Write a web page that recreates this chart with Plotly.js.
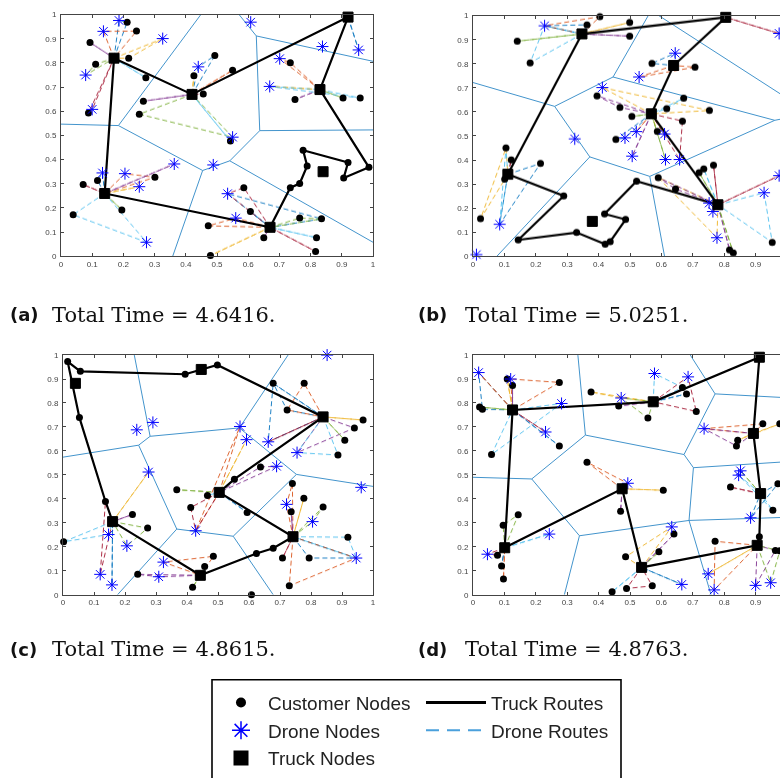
<!DOCTYPE html>
<html><head><meta charset="utf-8">
<script src="https://cdn.plot.ly/plotly-3.0.1.min.js"></script>
<style>html,body{margin:0;padding:0;overflow:hidden;background:#fff}#chart{width:800px;height:778px}</style>
</head><body><div id="chart"></div>
<script>
// ---------------- Panel (a) ----------------
const truckA_x = [0.92,0.17,0.42,0.83,0.14,0.67,0.84];
const truckA_y = [0.99,0.82,0.67,0.69,0.26,0.12,0.35];
const routeA_x = [0.17,0.42,0.92,0.83,0.987,0.906,0.92,0.776,0.789,0.765,0.735,0.67,0.14,0.17];
const routeA_y = [0.82,0.67,0.99,0.69,0.368,0.324,0.388,0.439,0.374,0.301,0.284,0.12,0.26,0.82];
const custA_x = [0.212,0.242,0.093,0.111,0.217,0.272,0.088,0.493,0.550,0.426,0.456,0.264,0.251,0.543,0.735,0.750,0.904,0.959,0.071,0.117,0.301,0.195,0.039,0.586,0.607,0.472,0.765,0.835,0.650,0.819,0.816,0.479,0.987,0.906,0.920,0.776,0.789,0.765,0.735];
const custA_y = [0.969,0.932,0.885,0.795,0.820,0.739,0.593,0.831,0.770,0.747,0.672,0.642,0.588,0.477,0.801,0.649,0.655,0.655,0.297,0.314,0.327,0.192,0.172,0.284,0.185,0.126,0.158,0.155,0.077,0.077,0.020,0.003,0.368,0.324,0.388,0.439,0.374,0.301,0.284];
const droneA_x = [0.186,0.136,0.326,0.079,0.100,0.440,0.550,0.608,0.838,0.954,0.701,0.669,0.133,0.205,0.251,0.363,0.488,0.274,0.534,0.560];
const droneA_y = [0.976,0.931,0.901,0.750,0.608,0.784,0.493,0.969,0.868,0.854,0.818,0.703,0.345,0.342,0.288,0.382,0.378,0.058,0.259,0.158];
// sorties: [truck node index, visited x's, visited y's]
const sortiesA = [
 [1,[0.186,0.212],[0.976,0.969]],[1,[0.136,0.242],[0.931,0.932]],[1,[0.326,0.217],[0.901,0.820]],
 [1,[0.093],[0.885]],[1,[0.111,0.079],[0.795,0.750]],[1,[0.272],[0.739]],[1,[0.100,0.088],[0.608,0.593]],
 [2,[0.493,0.440],[0.831,0.784]],[2,[0.550],[0.770]],[2,[0.426],[0.747]],[2,[0.264],[0.642]],
 [2,[0.251,0.550],[0.588,0.493]],[2,[0.543],[0.477]],[2,[0.456],[0.672]],
 [0,[0.954],[0.854]],
 [3,[0.701,0.735],[0.818,0.801]],[3,[0.669],[0.703]],[3,[0.750],[0.649]],[3,[0.904],[0.655]],[3,[0.959,0.669],[0.655,0.703]],
 [4,[0.071],[0.297]],[4,[0.117,0.133],[0.314,0.345]],[4,[0.205,0.301],[0.342,0.327]],[4,[0.251],[0.288]],
 [4,[0.363],[0.382]],[4,[0.195],[0.192]],[4,[0.039,0.274],[0.172,0.058]],
 [5,[0.586,0.534],[0.284,0.259]],[5,[0.607],[0.185]],[5,[0.560,0.472],[0.158,0.126]],[5,[0.479],[0.003]],
 [5,[0.650],[0.077]],[5,[0.765,0.835],[0.158,0.155]],[5,[0.819],[0.077]],[5,[0.816],[0.020]],[5,[0.534,0.835],[0.259,0.155]]
];
const voronoiA = [
 [0,0.547,0.184,0.541],[0.184,0.541,0.448,1],[0.184,0.541,0.454,0.355],[0.454,0.355,0.358,0],
 [0.454,0.355,0.541,0.395],[0.541,0.395,0.637,0.52],[0.637,0.52,1,0.523],[0.637,0.52,0.626,0.912],
 [0.626,0.912,0.571,1],[0.626,0.912,1,0.807],[0.541,0.395,1,0.058]
];
const timeA = '4.6416';

// ---------------- Panel (b) ----------------
const truckB_x = [0.805,0.347,0.639,0.568,0.780,0.111,0.380];
const truckB_y = [0.993,0.924,0.793,0.592,0.214,0.341,0.145];
const routeB_x = [0.111,0.347,0.805,0.639,0.568,0.780,0.521,0.419,0.486,0.437,0.421,0.330,0.144,0.289,0.111];
const routeB_y = [0.341,0.924,0.993,0.793,0.592,0.214,0.312,0.176,0.153,0.061,0.050,0.099,0.068,0.251,0.341];
const custB_x = [0.404,0.363,0.499,0.499,0.141,0.182,0.570,0.707,0.395,0.468,0.506,0.617,0.671,0.753,0.667,0.587,0.455,0.105,0.122,0.215,0.101,0.024,0.590,0.645,0.720,0.735,0.766,0.953,0.817,0.829,0.521,0.419,0.486,0.437,0.421,0.330,0.144,0.289];
const custB_y = [0.996,0.962,0.972,0.915,0.894,0.804,0.802,0.786,0.667,0.619,0.581,0.614,0.657,0.606,0.562,0.519,0.486,0.450,0.400,0.386,0.321,0.156,0.327,0.280,0.348,0.363,0.379,0.058,0.027,0.014,0.312,0.176,0.153,0.061,0.050,0.099,0.068,0.251];
const droneB_x = [0.228,0.975,0.644,0.529,0.412,0.324,0.520,0.484,0.610,0.507,0.613,0.658,0.085,0.011,0.752,0.764,0.777,0.927,0.975];
const droneB_y = [0.958,0.926,0.844,0.745,0.701,0.488,0.518,0.492,0.508,0.416,0.402,0.402,0.133,0.007,0.221,0.186,0.077,0.264,0.335];
const sortiesB = [
 [1,[0.228,0.363],[0.958,0.962]],[1,[0.404,0.228],[0.996,0.958]],[1,[0.499],[0.972]],[1,[0.499],[0.915]],
 [1,[0.141],[0.894]],[1,[0.182,0.228],[0.804,0.958]],
 [0,[0.975],[0.926]],
 [2,[0.644,0.570],[0.844,0.802]],[2,[0.529,0.707],[0.745,0.786]],
 [3,[0.412,0.753],[0.701,0.606]],[3,[0.395,0.468],[0.667,0.619]],[3,[0.506],[0.581]],[3,[0.617,0.671],[0.614,0.657]],
 [3,[0.667,0.658],[0.562,0.402]],[3,[0.455,0.484],[0.486,0.492]],[3,[0.520],[0.518]],[3,[0.587,0.610],[0.519,0.508]],
 [3,[0.507],[0.416]],[3,[0.613],[0.402]],
 [5,[0.105,0.085],[0.450,0.133]],[5,[0.122],[0.400]],[5,[0.215,0.085],[0.386,0.133]],[5,[0.101],[0.321]],[5,[0.024,0.105],[0.156,0.450]],
 [4,[0.590,0.645],[0.327,0.280]],[4,[0.720],[0.348]],[4,[0.735],[0.363]],[4,[0.766],[0.379]],[4,[0.752],[0.221]],
 [4,[0.764],[0.186]],[4,[0.777,0.590],[0.077,0.327]],[4,[0.817],[0.027]],[4,[0.829],[0.014]],
 [4,[0.927,0.953],[0.264,0.058]],[4,[0.975],[0.335]]
];
const voronoiB = [
 [0,0.722,0.260,0.623],[0.260,0.623,0.446,0.745],[0.446,0.745,0.558,1],[0.446,0.745,0.961,0.565],
 [0.961,0.565,1,0.575],[0.592,1,1,0.657],[0.961,0.565,0.563,0.332],[0.260,0.623,0.372,0.413],
 [0.372,0.413,0.076,0],[0.372,0.413,0.563,0.332],[0.563,0.332,0.610,0]
];
const timeB = '5.0251';

// ---------------- Panel (c) ----------------
const truckC_x = [0.040,0.446,0.839,0.504,0.742,0.160,0.443];
const truckC_y = [0.882,0.940,0.742,0.427,0.242,0.305,0.081];
const routeC_x = [0.015,0.056,0.394,0.446,0.498,0.839,0.553,0.504,0.742,0.678,0.624,0.443,0.160,0.137,0.053,0.015];
const routeC_y = [0.973,0.932,0.920,0.940,0.959,0.742,0.482,0.427,0.242,0.194,0.172,0.081,0.305,0.389,0.739,0.973];
const custC_x = [0.678,0.778,0.723,0.968,0.940,0.909,0.887,0.637,0.367,0.466,0.412,0.594,0.740,0.777,0.736,0.839,0.919,0.708,0.794,0.730,0.224,0.273,0.002,0.485,0.457,0.241,0.418,0.608,0.015,0.056,0.394,0.498,0.553,0.678,0.624,0.137,0.053];
const custC_y = [0.882,0.882,0.771,0.729,0.696,0.645,0.583,0.533,0.438,0.414,0.364,0.343,0.464,0.403,0.346,0.366,0.240,0.153,0.153,0.037,0.335,0.278,0.221,0.160,0.118,0.085,0.031,0.0,0.973,0.932,0.920,0.959,0.482,0.194,0.172,0.389,0.739];
const droneC_x = [0.852,0.238,0.290,0.571,0.592,0.662,0.755,0.689,0.962,0.276,0.428,0.721,0.805,0.946,0.147,0.206,0.120,0.158,0.324,0.309];
const droneC_y = [1.0,0.688,0.719,0.702,0.647,0.638,0.593,0.536,0.448,0.512,0.267,0.377,0.305,0.153,0.251,0.204,0.085,0.041,0.136,0.075];
const sortiesC = [
 [2,[0.678,0.723],[0.882,0.771]],[2,[0.778,0.723],[0.882,0.771]],[2,[0.968],[0.729]],[2,[0.940,0.755],[0.696,0.593]],
 [2,[0.909],[0.645]],[2,[0.887,0.755],[0.583,0.593]],[2,[0.662],[0.638]],[2,[0.662,0.678],[0.638,0.882]],
 [3,[0.571,0.428],[0.702,0.267]],[3,[0.592],[0.647]],[3,[0.637,0.689],[0.533,0.536]],[3,[0.367],[0.438]],
 [3,[0.466],[0.414]],[3,[0.412,0.428],[0.364,0.267]],[3,[0.594],[0.343]],
 [4,[0.740,0.721],[0.464,0.377]],[4,[0.777],[0.403]],[4,[0.736],[0.346]],[4,[0.805,0.839],[0.305,0.366]],
 [4,[0.919,0.946],[0.240,0.153]],[4,[0.708],[0.153]],[4,[0.794,0.946],[0.153,0.153]],[4,[0.730,0.946],[0.037,0.153]],
 [5,[0.276],[0.512]],[5,[0.224],[0.335]],[5,[0.273,0.206],[0.278,0.204]],[5,[0.002,0.147],[0.221,0.251]],
 [5,[0.120,0.137],[0.085,0.389]],[5,[0.158],[0.041]],
 [6,[0.485,0.324],[0.160,0.136]],[6,[0.457],[0.118]],[6,[0.241,0.309],[0.085,0.075]],[6,[0.418],[0.031]]
];
const voronoiC = [
 [0,0.574,0.244,0.624],[0.244,0.624,0.281,0.661],[0.281,0.661,0.230,1],[0.281,0.661,0.569,0.696],
 [0.569,0.696,0.726,1],[0.569,0.696,0.753,0.502],[0.753,0.502,1,0.452],[0.753,0.502,0.549,0.244],
 [0.549,0.244,0.367,0.274],[0.367,0.274,0.244,0.624],[0.367,0.274,0.176,0],[0.549,0.244,0.678,0]
];
const timeC = '4.8615';

// ---------------- Panel (d) ----------------
const truckD_x = [0.912,0.126,0.574,0.893,0.916,0.475,0.101,0.537,0.905];
const truckD_y = [0.991,0.771,0.805,0.673,0.422,0.442,0.196,0.114,0.206];
const routeD_x = [0.101,0.126,0.574,0.912,0.893,0.916,0.912,0.905,0.537,0.475,0.101];
const routeD_y = [0.196,0.771,0.805,0.991,0.673,0.422,0.242,0.206,0.114,0.442,0.196];
const custD_x = [0.109,0.126,0.275,0.021,0.030,0.059,0.275,0.376,0.464,0.557,0.667,0.680,0.711,0.923,0.977,0.843,0.839,0.363,0.606,0.470,0.820,0.971,0.955,0.144,0.096,0.078,0.091,0.097,0.486,0.592,0.640,0.443,0.489,0.571,0.771,0.912,0.963,0.977];
const custD_y = [0.900,0.873,0.886,0.783,0.774,0.585,0.621,0.846,0.788,0.737,0.865,0.838,0.765,0.713,0.713,0.645,0.621,0.553,0.436,0.348,0.449,0.463,0.352,0.334,0.290,0.165,0.120,0.066,0.158,0.179,0.253,0.012,0.026,0.037,0.223,0.242,0.185,0.183];
const droneD_x = [0.018,0.120,0.578,0.685,0.472,0.282,0.231,0.736,0.852,0.846,0.493,0.884,0.633,0.243,0.046,0.665,0.749,0.768,0.900,0.948];
const droneD_y = [0.927,0.900,0.923,0.909,0.821,0.798,0.679,0.693,0.517,0.499,0.465,0.321,0.283,0.253,0.169,0.043,0.087,0.020,0.039,0.050];
const sortiesD = [
 [1,[0.018,0.030],[0.927,0.774]],[1,[0.120,0.275],[0.900,0.886]],[1,[0.109],[0.900]],[1,[0.126],[0.873]],
 [1,[0.021],[0.783]],[1,[0.282,0.059],[0.798,0.585]],[1,[0.231],[0.679]],[1,[0.275],[0.621]],[1,[0.018],[0.927]],
 [2,[0.376,0.472],[0.846,0.821]],[2,[0.464],[0.788]],[2,[0.557,0.472],[0.737,0.821]],[2,[0.578,0.667],[0.923,0.865]],
 [2,[0.685,0.711],[0.909,0.765]],[2,[0.680],[0.838]],
 [3,[0.736,0.923],[0.693,0.713]],[3,[0.977,0.843],[0.713,0.645]],[3,[0.839,0.736],[0.621,0.693]],
 [4,[0.852],[0.517]],[4,[0.846,0.955],[0.499,0.352]],[4,[0.820],[0.449]],[4,[0.971,0.884],[0.463,0.321]],
 [5,[0.363,0.493],[0.553,0.465]],[5,[0.606],[0.436]],[5,[0.470],[0.348]],
 [6,[0.144,0.096],[0.334,0.290]],[6,[0.243],[0.253]],[6,[0.046,0.078],[0.169,0.165]],[6,[0.091],[0.120]],[6,[0.097],[0.066]],
 [7,[0.633,0.486],[0.283,0.158]],[7,[0.640],[0.253]],[7,[0.592],[0.179]],[7,[0.443],[0.012]],
 [7,[0.489,0.571],[0.026,0.037]],[7,[0.665],[0.043]],
 [8,[0.771,0.768],[0.223,0.020]],[8,[0.749],[0.087]],[8,[0.900,0.963],[0.039,0.185]],[8,[0.948,0.977],[0.050,0.183]],[8,[0.912],[0.242]]
];
const voronoiD = [
 [0,0.490,0.187,0.483],[0.187,0.483,0.358,0.666],[0.358,0.666,0.334,1],[0.358,0.666,0.672,0.585],
 [0.672,0.585,0.771,0.838],[0.771,0.838,0.692,1],[0.771,0.838,1,0.822],[0.672,0.585,0.702,0.530],
 [0.702,0.530,1,0.555],[0.702,0.530,0.688,0.310],[0.688,0.310,1,0.323],[0.688,0.310,0.339,0.246],
 [0.339,0.246,0.187,0.483],[0.339,0.246,0.291,0],[0.688,0.310,0.758,0]
];
const timeD = '4.8763';

const panelLabels = ['(a)','(b)','(c)','(d)'];
const legendNames = ['Customer Nodes','Drone Nodes','Truck Nodes','Truck Routes','Drone Routes'];
const tickValsFull = [0,0.1,0.2,0.3,0.4,0.5,0.6,0.7,0.8,0.9,1];
const tickValsCut  = [0,0.1,0.2,0.3,0.4,0.5,0.6,0.7,0.8,0.9];

// ---------------- Build ----------------
const W = 800, H = 778;
const palette = ['#0072BD','#D95319','#EDB120','#7E2F8E','#77AC30','#4DBEEE','#A2142F'];
const px = v => v / W, py = v => 1 - v / H;

// pixel boxes of each plot area [left, right, top, bottom]
const boxes = [[61,373,15,262],[473,787,16,262],[63,373,363,608],[473,787,363,608]];
const captionPos = [[8,50,322],[416,463,322],[8,50,664],[416,463,664]];

const panels = [
 {cx:custA_x,cy:custA_y,dx:droneA_x,dy:droneA_y,tx:truckA_x,ty:truckA_y,rx:routeA_x,ry:routeA_y,s:sortiesA,v:voronoiA,t:timeA},
 {cx:custB_x,cy:custB_y,dx:droneB_x,dy:droneB_y,tx:truckB_x,ty:truckB_y,rx:routeB_x,ry:routeB_y,s:sortiesB,v:voronoiB,t:timeB},
 {cx:custC_x,cy:custC_y,dx:droneC_x,dy:droneC_y,tx:truckC_x,ty:truckC_y,rx:routeC_x,ry:routeC_y,s:sortiesC,v:voronoiC,t:timeC},
 {cx:custD_x,cy:custD_y,dx:droneD_x,dy:droneD_y,tx:truckD_x,ty:truckD_y,rx:routeD_x,ry:routeD_y,s:sortiesD,v:voronoiD,t:timeD}
];

const traces = [];
const legFont = {family:'Liberation Sans, Arial, sans-serif', size:19, color:'#222'};
const layout = {
  width: W, height: H, margin:{l:0,r:0,t:0,b:0},
  paper_bgcolor:'#fff', plot_bgcolor:'#fff', showlegend:true,
  font:{family:'Liberation Sans, Arial, sans-serif'},
  legend:{x:px(214), y:py(699), xanchor:'left', yanchor:'top', bgcolor:'rgba(0,0,0,0)', borderwidth:0,
          font:legFont, itemwidth:44, traceorder:'normal', tracegroupgap:0},
  legend2:{x:px(421), y:py(699), xanchor:'left', yanchor:'top', bgcolor:'rgba(0,0,0,0)', borderwidth:0,
          font:legFont, itemwidth:60, traceorder:'normal', tracegroupgap:0},
  shapes:[{type:'rect', xref:'paper', yref:'paper', x0:px(212), x1:px(621), y0:py(820), y1:py(695), line:{color:'#000', width:1.6}}],
  annotations:[]
};

panels.forEach((p, i) => {
  const n = i === 0 ? '' : String(i + 1);
  const xa = 'x' + n, ya = 'y' + n;
  const b = boxes[i];
  const axBase = {range:[0,1], tickmode:'array', ticks:'inside', ticklen:3, tickwidth:1, tickcolor:'#444',
    showline:true, linecolor:'#444', linewidth:1, mirror:'ticks', showgrid:false, zeroline:false, fixedrange:true,
    tickfont:{family:'Liberation Sans, Arial, sans-serif', size:8, color:'#444'}};
  const xt = (i % 2 === 1) ? tickValsCut : tickValsFull;
  layout['xaxis' + n] = Object.assign({}, axBase, {domain:[px(b[0]), px(b[1])], anchor:ya, tickvals:xt, ticktext:xt.map(String)});
  layout['yaxis' + n] = Object.assign({}, axBase, {domain:[py(b[3]), py(b[2])], anchor:xa, ticklabelstandoff:2,
    tickvals:tickValsFull, ticktext:tickValsFull.map(String)});

  // Voronoi edges
  const vx = [], vy = [];
  p.v.forEach(s => { vx.push(s[0], s[2], null); vy.push(s[1], s[3], null); });
  traces.push({type:'scatter', mode:'lines', x:vx, y:vy, xaxis:xa, yaxis:ya, line:{color:'#4394cc', width:1},
    hoverinfo:'skip', showlegend:false, cliponaxis:true});

  // Drone routes, one trace per colour
  const groups = palette.map(() => ({x:[], y:[]}));
  p.s.forEach((s, k) => {
    const g = groups[k % palette.length];
    const d = s[0];
    g.x.push(p.tx[d], ...s[1], p.tx[d], null);
    g.y.push(p.ty[d], ...s[2], p.ty[d], null);
  });
  groups.forEach((g, k) => {
    traces.push({type:'scatter', mode:'lines', x:g.x, y:g.y, xaxis:xa, yaxis:ya,
      line:{color:palette[k], width:1, dash:'5px,3px'}, opacity:0.9, hoverinfo:'skip', cliponaxis:false, showlegend:false});
  });

  // Truck route
  traces.push({type:'scatter', mode:'lines', x:p.rx, y:p.ry, xaxis:xa, yaxis:ya, line:{color:'#000', width:2.2},
    hoverinfo:'skip', cliponaxis:false, showlegend:false});
  // Customers
  traces.push({type:'scatter', mode:'markers', x:p.cx, y:p.cy, xaxis:xa, yaxis:ya,
    marker:{symbol:'circle', size:7, color:'#000'}, cliponaxis:false, hoverinfo:'skip', showlegend:false});
  // Drone nodes
  traces.push({type:'scatter', mode:'markers', x:p.dx, y:p.dy, xaxis:xa, yaxis:ya,
    marker:{symbol:'asterisk-open', size:10, color:'#0000ff', line:{color:'#0000ff', width:1}}, cliponaxis:false, hoverinfo:'skip', showlegend:false});
  // Truck nodes
  traces.push({type:'scatter', mode:'markers', x:p.tx, y:p.ty, xaxis:xa, yaxis:ya,
    marker:{symbol:'square', size:10, color:'#000', line:{color:'#000', width:1}}, cliponaxis:false, hoverinfo:'skip', showlegend:false});

  // Caption
  const c = captionPos[i];
  layout.annotations.push({xref:'paper', yref:'paper', x:px(c[0]), y:py(c[2]), xanchor:'left', yanchor:'middle',
    showarrow:false, text:'<b>' + panelLabels[i] + '</b>', font:{family:'DejaVu Sans, sans-serif', size:18, color:'#111'}});
  layout.annotations.push({xref:'paper', yref:'paper', x:px(c[1]), y:py(c[2]), xanchor:'left', yanchor:'middle',
    showarrow:false, text:'Total Time = ' + p.t + '.', font:{family:'DejaVu Serif, serif', size:21, color:'#111'}});
});

// Legend entries (key only, no data points)
const legendStyles = [
 {mode:'markers', marker:{symbol:'circle', size:10, color:'#000'}, legend:'legend'},
 {mode:'markers', marker:{symbol:'asterisk-open', size:15, color:'#0000ff', line:{color:'#0000ff', width:1.5}}, legend:'legend'},
 {mode:'markers', marker:{symbol:'square', size:15, color:'#000'}, legend:'legend'},
 {mode:'lines', line:{color:'#000', width:3}, legend:'legend2'},
 {mode:'lines', line:{color:'#4aa0dc', width:2, dash:'13px,8px'}, legend:'legend2'}
];
legendNames.forEach((nm, k) => {
  traces.push(Object.assign({type:'scatter', x:[null], y:[null], xaxis:'x', yaxis:'y', name:nm, showlegend:true, hoverinfo:'skip'}, legendStyles[k]));
});

Plotly.newPlot('chart', traces, layout, {staticPlot:true, displayModeBar:false});
</script>
</body></html>
